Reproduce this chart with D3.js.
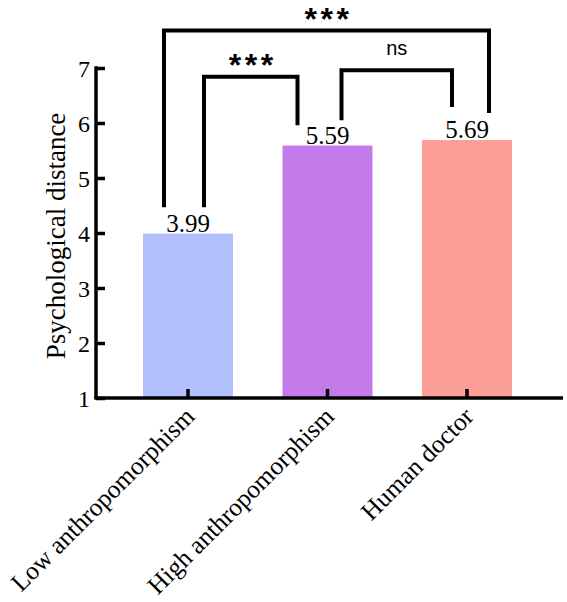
<!DOCTYPE html>
<html><head><meta charset="utf-8">
<script src="https://cdn.jsdelivr.net/npm/d3@7"></script>
<style>body{margin:0;background:#fff}svg{display:block}</style>
</head><body>
<script>
const categories = ["Low anthropomorphism", "High anthropomorphism", "Human doctor"];
const values = [3.99, 5.59, 5.69];
const valueLabels = ["3.99", "5.59", "5.69"];
const colors = ["#b2c0fd", "#c47be9", "#fa9e97"];
const yTicks = [1, 2, 3, 4, 5, 6, 7];
const yTitle = "Psychological distance";
// significance brackets: from category, to category, top value, left leg end value, right leg end value, label
const bracketFrom = [0, 1, 0];
const bracketTo = [1, 2, 2];
const bracketTop = [6.84, 6.96, 7.68];
const bracketLeftEnd = [4.47, 6.05, 4.47];
const bracketRightEnd = [5.96, 6.29, 6.18];
const bracketLabels = ["***", "ns", "***"];

const W = 567, H = 602;
const serif = "Liberation Serif, Times New Roman, serif";
const svg = d3.select("body").append("svg").attr("width", W).attr("height", H);

const x = d3.scaleBand().domain(categories).range([118.25, 536.75]).paddingInner(0.355).paddingOuter(0.1775);
const y = d3.scaleLinear().domain([1, 7]).range([398, 68]);
const x0 = 96, xEnd = 563;

// bars
svg.selectAll("rect.bar").data(categories).join("rect")
  .attr("x", d => x(d)).attr("width", x.bandwidth())
  .attr("y", (d, i) => y(values[i])).attr("height", (d, i) => y(1) - y(values[i]))
  .attr("fill", (d, i) => colors[i]);

// value labels
svg.selectAll("text.val").data(categories).join("text")
  .attr("x", d => x(d) + x.bandwidth() / 2).attr("y", (d, i) => y(values[i]) - 2)
  .attr("text-anchor", "middle").attr("font-family", serif)
  .attr("font-size", 25).text((d, i) => valueLabels[i]);

// y axis
const yAxis = d3.axisLeft(y).tickValues(yTicks).tickSize(-9).tickPadding(6).tickFormat(d3.format("d"));
const gy = svg.append("g").attr("transform", `translate(${x0},0)`).call(yAxis);
gy.select(".domain").remove();
gy.selectAll(".tick line").attr("stroke", "#000").attr("stroke-width", 3.5);
gy.selectAll(".tick text").attr("font-family", serif).attr("font-size", 24).attr("fill", "#000").attr("x", -6).attr("dy", "0.36em");
svg.append("line").attr("x1", x0).attr("x2", x0).attr("y1", y(7) - 1.75).attr("y2", y(1)).attr("stroke", "#000").attr("stroke-width", 3.5);

// x axis
const xAxis = d3.axisBottom(x).tickSize(-9).tickFormat("");
const gx = svg.append("g").attr("transform", `translate(0,${y(1)})`).call(xAxis);
gx.select(".domain").remove();
gx.selectAll(".tick line").attr("stroke", "#000").attr("stroke-width", 3.5);
svg.append("line").attr("x1", x0 - 1.75).attr("x2", xEnd).attr("y1", y(1)).attr("y2", y(1)).attr("stroke", "#000").attr("stroke-width", 3.5);

// x labels rotated
svg.selectAll("text.xl").data(categories).join("text")
  .attr("transform", d => `translate(${x(d) + x.bandwidth() / 2 + 8},${y(1) + 20}) rotate(-45)`)
  .attr("text-anchor", "end").attr("font-family", serif)
  .attr("font-size", 25.5).text(d => d);

// y title
svg.append("text").attr("transform", `translate(65,${(y(1) + y(7)) / 2 + 3}) rotate(-90)`)
  .attr("text-anchor", "middle").attr("font-family", serif)
  .attr("font-size", 27).text(yTitle);

// brackets
const legOffL = [16, 14, -24];
const legOffR = [-30, -15, 22];
bracketLabels.forEach((lab, i) => {
  const c1 = x(categories[bracketFrom[i]]) + x.bandwidth() / 2 + legOffL[i];
  const c2 = x(categories[bracketTo[i]]) + x.bandwidth() / 2 + legOffR[i];
  const path = d3.path();
  path.moveTo(c1, y(bracketLeftEnd[i]));
  path.lineTo(c1, y(bracketTop[i]));
  path.lineTo(c2, y(bracketTop[i]));
  path.lineTo(c2, y(bracketRightEnd[i]));
  svg.append("path").attr("d", path.toString()).attr("fill", "none").attr("stroke", "#000").attr("stroke-width", 4).attr("stroke-linejoin", "miter");
  const isStar = lab.indexOf("*") >= 0;
  svg.append("text").attr("x", (c1 + c2) / 2 + (isStar ? 2 : 0)).attr("y", y(bracketTop[i]) - (isStar ? 1 : 15))
    .attr("text-anchor", "middle").attr("font-family", "Liberation Sans, Arial, sans-serif")
    .attr("font-weight", isStar ? "bold" : "normal")
    .attr("letter-spacing", isStar ? 3.5 : 0)
    .attr("font-size", isStar ? 32 : 20).text(lab);
});
</script>
</body></html>
